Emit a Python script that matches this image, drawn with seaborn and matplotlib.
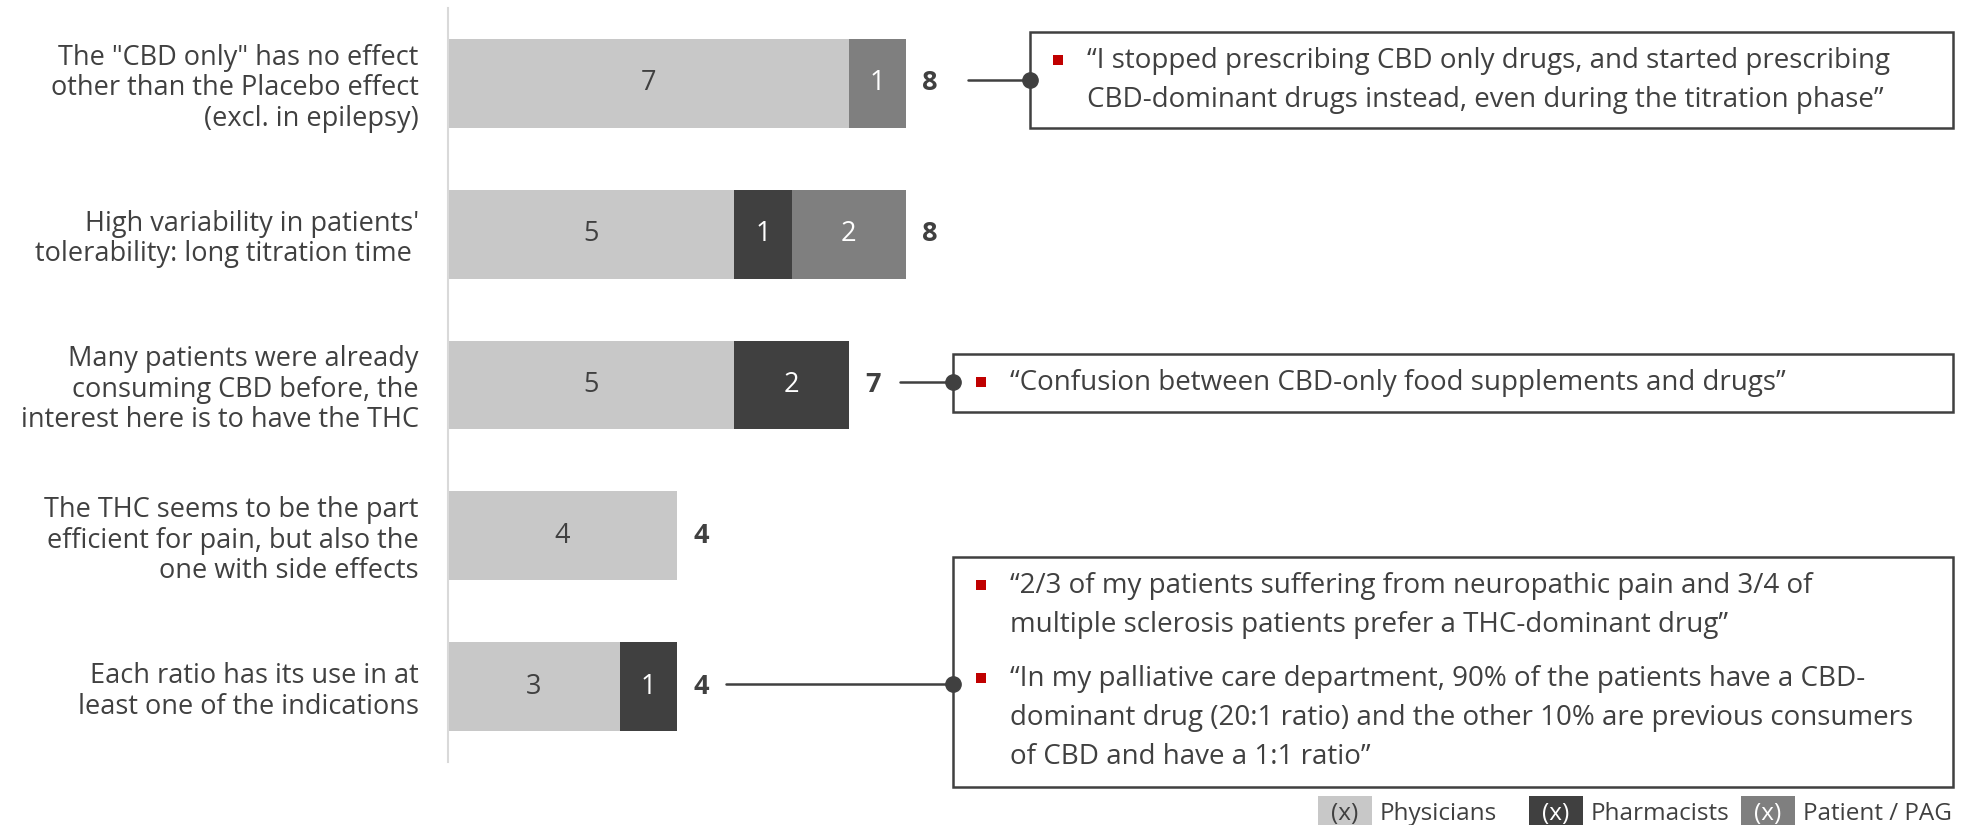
import matplotlib
matplotlib.use("Agg")
import matplotlib.pyplot as plt
import matplotlib.transforms as mtransforms
from matplotlib.patches import Rectangle
from matplotlib.lines import Line2D
import pandas as pd
import seaborn as sns

# ---- data -----------------------------------------------------------------
categories = [
    'The "CBD only" has no effect\nother than the Placebo effect\n(excl. in epilepsy)',
    "High variability in patients'\ntolerability: long titration time ",
    "Many patients were already\nconsuming CBD before, the\ninterest here is to have the THC",
    "The THC seems to be the part\nefficient for pain, but also the\none with side effects",
    "Each ratio has its use in at\nleast one of the indications",
]
physicians = [7, 5, 5, 4, 3]
pharmacists = [0, 1, 2, 0, 1]
patients = [1, 2, 0, 0, 0]

series_names = ["Physicians", "Pharmacists", "Patient / PAG"]
series_colors = ["#C8C8C8", "#404040", "#7F7F7F"]
series_text = ["#404040", "#FFFFFF", "#FFFFFF"]

quote_rows = [0, 2, 4]
quotes = [
    ["\u201cI stopped prescribing CBD only drugs, and started prescribing\n"
     "CBD-dominant drugs instead, even during the titration phase\u201d"],
    ["\u201cConfusion between CBD-only food supplements and drugs\u201d"],
    ["\u201c2/3 of my patients suffering from neuropathic pain and 3/4 of\n"
     "multiple sclerosis patients prefer a THC-dominant drug\u201d",
     "\u201cIn my palliative care department, 90% of the patients have a CBD-\n"
     "dominant drug (20:1 ratio) and the other 10% are previous consumers\n"
     "of CBD and have a 1:1 ratio\u201d"],
]

# ---- style ----------------------------------------------------------------
sns.set_theme(style="white")
plt.rcParams["font.family"] = ["Open Sans", "DejaVu Sans"]
TXT = "#404040"
FS = 19.5
FS_QUOTE = 20
FS_LEG = 17.5

W, H = 1968, 825
fig = plt.figure(figsize=(W / 100, H / 100), dpi=100)
ax = fig.add_axes([448 / W, 1 - 762 / H, 1 - 448 / W, 754 / H])

# pixel (top-left origin) -> figure transform
px = mtransforms.Affine2D().scale(1 / W, -1 / H).translate(0, 1) + fig.transFigure

df = pd.DataFrame({
    "category": categories,
    "Physicians": physicians,
    "Pharmacists": pharmacists,
    "Patient / PAG": patients,
})
df["upto_phys"] = df["Physicians"]
df["upto_pharm"] = df["Physicians"] + df["Pharmacists"]
df["total"] = df["upto_pharm"] + df["Patient / PAG"]

# stacked bars drawn as overlapping cumulative layers
for col, color in zip(["total", "upto_pharm", "upto_phys"], series_colors[::-1]):
    sns.barplot(data=df, x=col, y="category", orient="h", color=color,
                saturation=1, width=0.59, linewidth=0, errorbar=None, ax=ax)

ax.set_xlim(0, (W - 448) / 57.25)
ax.set_ylim(4.5, -0.5)
ax.set_xlabel("")
ax.set_ylabel("")
ax.set_xticks([])
for s in ["top", "right", "bottom"]:
    ax.spines[s].set_visible(False)
ax.spines["left"].set_color("#D9D9D9")
ax.spines["left"].set_linewidth(1.5)
ax.tick_params(axis="y", length=0, pad=21, labelsize=FS, labelcolor=TXT)
for lab in ax.get_yticklabels():
    lab.set_linespacing(1.12)

# segment values and totals
for i, row in df.iterrows():
    left = 0
    for name, tc in zip(series_names, series_text):
        v = row[name]
        if v > 0:
            ax.text(left + v / 2, i, str(v), ha="center", va="center",
                    fontsize=FS, color=tc)
        left += v
    ax.text(row["total"] + 0.42, i, str(row["total"]), ha="center",
            va="center", fontsize=FS, color=TXT, fontweight="bold")

# quote call-out boxes
boxes = [(1030, 32, 1953, 128), (953, 354, 1953, 412), (953, 557, 1953, 787)]
line_start = [62, 51, 49]
text_tops = [[61], [383], [586, 679]]
line_gap = 39

for r, (x0, y0, x1, y1), off, tops, qs in zip(quote_rows, boxes, line_start,
                                              text_tops, quotes):
    fig.add_artist(Rectangle((x0, y0), x1 - x0, y1 - y0, transform=px,
                             fill=False, edgecolor=TXT, linewidth=1.8))
    bar_end = ax.transData.transform((df.loc[r, "total"], r))
    cy = H - bar_end[1] - 3
    sx = bar_end[0] + off
    fig.add_artist(Line2D([sx, x0], [cy, cy], transform=px, color=TXT,
                          linewidth=1.8))
    fig.add_artist(Line2D([x0], [cy], transform=px, marker="o",
                          markersize=11, color=TXT, linewidth=0))
    for ty, q in zip(tops, qs):
        fig.add_artist(Rectangle((x0 + 23, ty - 6), 10, 10, transform=px,
                                 color="#C00000", linewidth=0))
        for k, line in enumerate(q.split("\n")):
            fig.text((x0 + 57) / W, 1 - (ty + k * line_gap) / H, line,
                     ha="left", va="center", fontsize=FS_QUOTE, color=TXT)

# legend
leg_x = [1318, 1529, 1741]
for name, color, tc, lx in zip(series_names, series_colors, series_text, leg_x):
    fig.add_artist(Rectangle((lx, 796), 54, 35, transform=px, color=color,
                             linewidth=0))
    fig.text((lx + 27) / W, 1 - 814 / H, "(x)", ha="center", va="center",
             fontsize=FS_LEG, color=tc)
    fig.text((lx + 62) / W, 1 - 814 / H, name, ha="left", va="center",
             fontsize=FS_LEG, color=TXT)

fig.savefig("out.png", dpi=100)
